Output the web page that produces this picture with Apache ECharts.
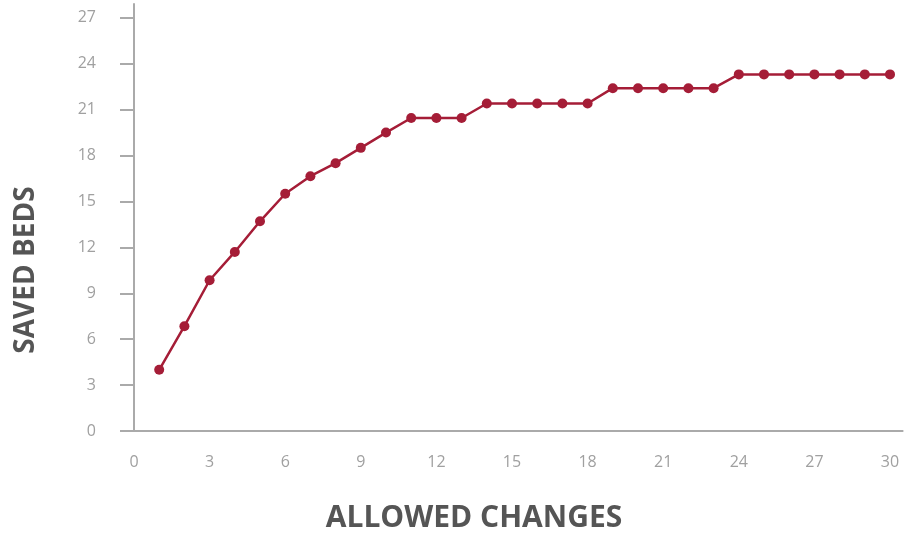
<!DOCTYPE html>
<html>
<head>
<meta charset="utf-8">
<script src="https://cdn.jsdelivr.net/npm/echarts@6/dist/echarts.min.js"></script>
<style>
html,body{margin:0;padding:0;background:#fff;}
#chart{width:904px;height:536px;}
</style>
</head>
<body>
<div id="chart"></div>
<script>
const allowedChanges = [1,2,3,4,5,6,7,8,9,10,11,12,13,14,15,16,17,18,19,20,21,22,23,24,25,26,27,28,29,30];
const savedBeds = [4,6.85,9.85,11.7,13.7,15.5,16.65,17.5,18.5,19.5,20.45,20.45,20.45,21.4,21.4,21.4,21.4,21.4,22.4,22.4,22.4,22.4,22.4,23.3,23.3,23.3,23.3,23.3,23.3,23.3];
const xTicks = [0,3,6,9,12,15,18,21,24,27,30];
const yTicks = [0,3,6,9,12,15,18,21,24,27];
const xTitle = 'ALLOWED CHANGES';
const yTitle = 'SAVED BEDS';

const chart = echarts.init(document.getElementById('chart'), null, {renderer:'canvas'});
const axisGrey = '#aaaaaa';
const labelGrey = '#a0a0a0';
chart.setOption({
  animation:false,
  backgroundColor:'#ffffff',
  grid:{left:134, top:4, width:768.6, height:427, containLabel:false},
  xAxis:{
    type:'value', min:0, max:30.5,
    axisLine:{show:true, lineStyle:{color:axisGrey, width:2}},
    axisTick:{show:false},
    splitLine:{show:false},
    axisLabel:{customValues:xTicks, color:labelGrey, fontFamily:'Open Sans', fontSize:16, margin:23}
  },
  yAxis:{
    type:'value', min:0, max:27.9,
    axisLine:{show:true, onZero:false, lineStyle:{color:axisGrey, width:2}},
    axisTick:{show:true, customValues:yTicks, inside:false, length:14, lineStyle:{color:axisGrey, width:2}},
    splitLine:{show:false},
    axisLabel:{customValues:yTicks, color:labelGrey, fontFamily:'Open Sans', fontSize:16, margin:38}
  },
  graphic:[
    {type:'text', x:474, y:518, style:{text:xTitle, fill:'#555555', font:'bold 30px "Open Sans"', textAlign:'center', textVerticalAlign:'middle'}},
    {type:'text', x:26, y:270, rotation:Math.PI/2, style:{text:yTitle, fill:'#555555', font:'bold 28px "Open Sans"', textAlign:'center', textVerticalAlign:'middle'}}
  ],
  series:[{
    type:'line',
    data:allowedChanges.map((x,i)=>[x, savedBeds[i]]),
    symbol:'circle', symbolSize:10,
    lineStyle:{color:'#a51d37', width:2.5},
    itemStyle:{color:'#a51d37'}
  }]
});
</script>
</body>
</html>
